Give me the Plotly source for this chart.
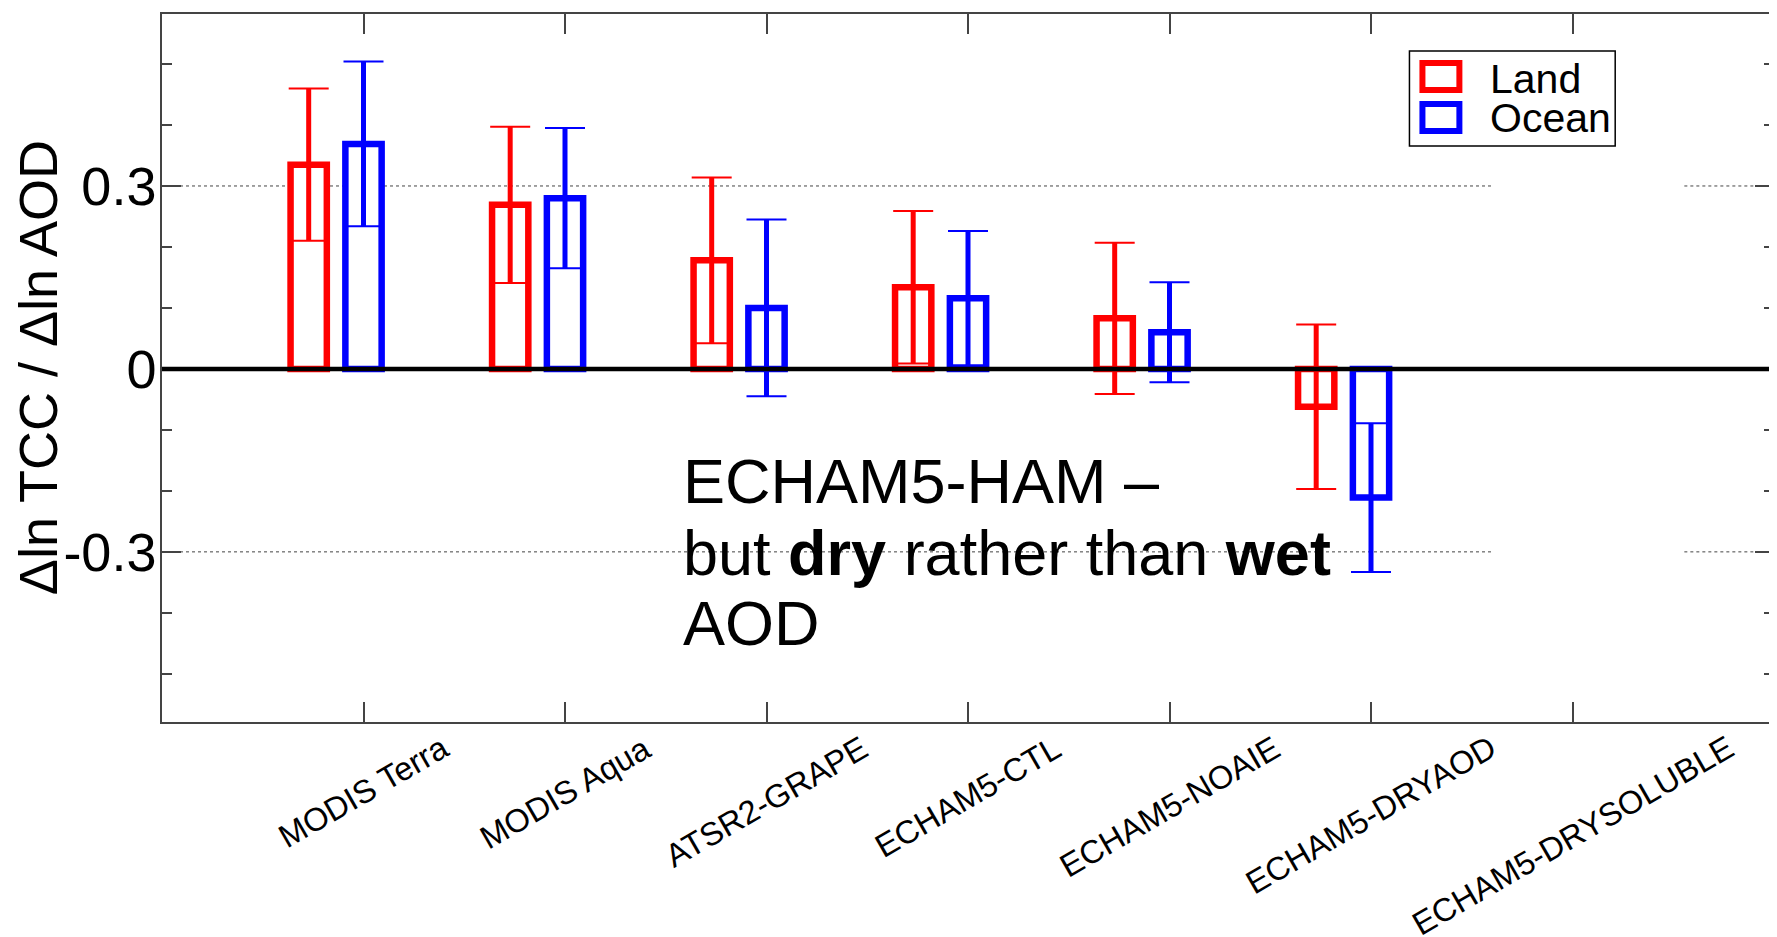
import plotly.graph_objects as go

# ---------------- data ----------------
categories = ["MODIS Terra", "MODIS Aqua", "ATSR2-GRAPE", "ECHAM5-CTL",
              "ECHAM5-NOAIE", "ECHAM5-DRYAOD", "ECHAM5-DRYSOLUBLE"]
land_values = [0.335, 0.269, 0.178, 0.134, 0.083, -0.062, None]
land_errors = [0.125, 0.128, 0.136, 0.125, 0.124, 0.135, None]
ocean_values = [0.369, 0.280, 0.100, 0.116, 0.060, -0.211, None]
ocean_errors = [0.135, 0.115, 0.145, 0.110, 0.082, 0.122, None]
ytick_vals = [-0.3, 0, 0.3]
ytick_text = ["-0.3", "0", "0.3"]
yminor_vals = [-0.5, -0.4, -0.2, -0.1, 0.1, 0.2, 0.4, 0.5]
series_names = ["Land", "Ocean"]
series_colors = ["#ff0000", "#0000ff"]

# ---------------- layout helpers ----------------
# The page body has an 8px margin, so the figure is offset by (8, 8).
OFF = 8
W_FIG, H_FIG = 1777 - OFF, 937 - OFF
L, R, T, B = 162, 1776, 14, 722          # plot-area edges in page pixels
PW, PH = R - L, B - T
FONT = "Arial, Liberation Sans, sans-serif"
FRAME = "#444444"


def px(x):
    return (x - L) / PW


def py(y):
    return (B - y) / PH


pos = list(range(1, len(categories) + 1))
land_x = [p - 0.272 for p in pos]
ocean_x = pos

fig = go.Figure()

series = [
    (series_names[0], land_x, land_values, land_errors, series_colors[0]),
    (series_names[1], ocean_x, ocean_values, ocean_errors, series_colors[1]),
]
for name, xs, vals, errs, col in series:
    fig.add_trace(go.Bar(
        name=name, x=xs, y=vals, width=0.18,
        marker=dict(color="white", line=dict(color=col, width=6.5)),
        showlegend=False,
    ))
for name, xs, vals, errs, col in series:
    # thick stems
    fig.add_trace(go.Scatter(
        x=xs, y=vals, mode="markers", name=name,
        marker=dict(size=1, color="rgba(0,0,0,0)"),
        error_y=dict(type="data", array=errs, visible=True,
                     thickness=5, width=0, color=col),
        showlegend=False, hoverinfo="skip",
    ))
    # thin caps
    fig.add_trace(go.Scatter(
        x=xs, y=vals, mode="markers", name=name,
        marker=dict(size=1, color="rgba(0,0,0,0)"),
        error_y=dict(type="data", array=errs, visible=True,
                     thickness=2, width=20, color=col),
        showlegend=False, hoverinfo="skip",
    ))

shapes = []
# dotted gridlines with a gap (masked region)
for yv in [0.3, -0.3]:
    for x0, x1 in [(0, 6.607), (7.555, 8)]:
        shapes.append(dict(type="line", xref="x", yref="y", x0=x0, x1=x1,
                           y0=yv, y1=yv, layer="below",
                           line=dict(color="#444444", width=1, dash="dot")))
# thick zero line
shapes.append(dict(type="line", xref="paper", yref="y", x0=0, x1=1, y0=0, y1=0,
                   layer="above", line=dict(color="black", width=4.5)))
# custom legend
shapes.append(dict(type="rect", xref="paper", yref="paper",
                   x0=px(1411), x1=px(1617), y0=py(146), y1=py(51),
                   layer="above", fillcolor="white",
                   line=dict(color="black", width=1.5)))
shapes.append(dict(type="rect", xref="paper", yref="paper",
                   x0=px(1424), x1=px(1461), y0=py(90), y1=py(63),
                   layer="above", fillcolor="white",
                   line=dict(color=series_colors[0], width=6)))
shapes.append(dict(type="rect", xref="paper", yref="paper",
                   x0=px(1424), x1=px(1461), y0=py(131), y1=py(104),
                   layer="above", fillcolor="white",
                   line=dict(color=series_colors[1], width=6)))

annotations = []
annotations.append(dict(text=series_names[0], xref="paper", yref="paper",
                        x=px(1491), y=py(79), xanchor="left", yanchor="middle",
                        showarrow=False, borderpad=0,
                        font=dict(family=FONT, size=41, color="black")))
annotations.append(dict(text=series_names[1], xref="paper", yref="paper",
                        x=px(1491), y=py(118), xanchor="left", yanchor="middle",
                        showarrow=False, borderpad=0,
                        font=dict(family=FONT, size=41, color="black")))
# rotated category labels
for p, c in zip(pos, categories):
    annotations.append(dict(text=c, xref="x", yref="paper", x=p, y=py(728),
                            xanchor="center", yanchor="top", textangle=-30,
                            showarrow=False, borderpad=0,
                            font=dict(family=FONT, size=32.5, color="black")))
# y-axis title
annotations.append(dict(text="Δln TCC / Δln AOD", xref="paper", yref="paper",
                        x=px(38), y=0.5, xanchor="center", yanchor="middle",
                        textangle=-90, showarrow=False, borderpad=0,
                        font=dict(family=FONT, size=54, color="black")))
# in-plot text
note_lines = ["ECHAM5-HAM –", "but <b>dry</b> rather than <b>wet</b>", "AOD"]
note_mid_y = [481, 553, 623]
for t, yy in zip(note_lines, note_mid_y):
    annotations.append(dict(text=t, xref="paper", yref="paper", x=px(682), y=py(yy),
                            xanchor="left", yanchor="middle", showarrow=False,
                            font=dict(family=FONT, size=63, color="black")))

fig.update_layout(
    width=W_FIG, height=H_FIG,
    margin=dict(l=L - OFF, r=W_FIG + OFF - R, t=T - OFF, b=H_FIG + OFF - B, pad=0),
    paper_bgcolor="white", plot_bgcolor="white",
    barmode="overlay", showlegend=False,
    shapes=shapes, annotations=annotations,
    xaxis=dict(range=[0, 8], tickvals=pos, showticklabels=False,
               ticks="inside", ticklen=20, tickwidth=1.5, tickcolor=FRAME,
               showline=True, linecolor=FRAME, linewidth=1.5, mirror="ticks",
               showgrid=False, zeroline=False),
    yaxis=dict(range=[-0.579, 0.582], tickvals=ytick_vals, ticktext=ytick_text,
               ticks="inside", ticklen=19, tickwidth=1.5, tickcolor=FRAME,
               minor=dict(tickvals=yminor_vals, ticks="inside", ticklen=10,
                          tickwidth=1.5, tickcolor=FRAME, showgrid=False),
               showline=True, linecolor=FRAME, linewidth=1.5, mirror="ticks",
               showgrid=False, zeroline=False, ticklabelstandoff=-7,
               tickfont=dict(family=FONT, size=54, color="black")),
)

fig.write_html("out.html")
